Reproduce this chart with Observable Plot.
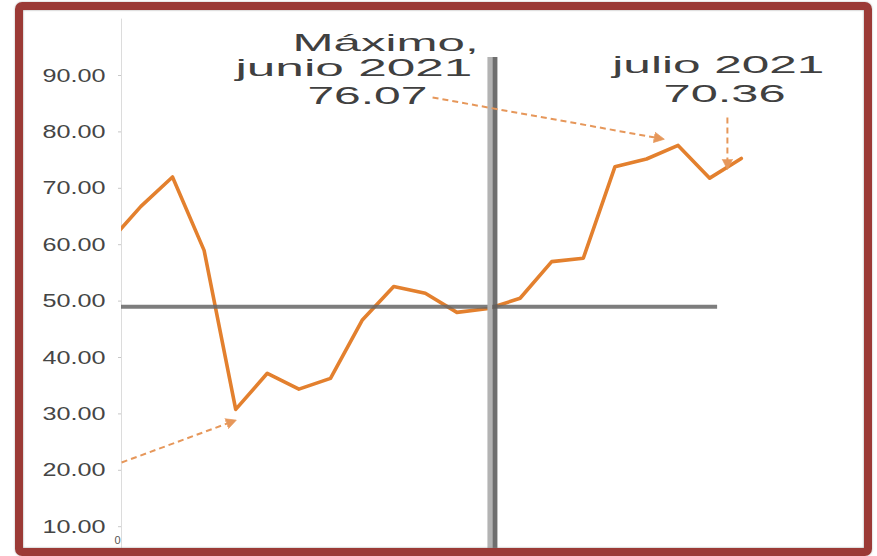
<!DOCTYPE html>
<html><head><meta charset="utf-8">
<script src="https://cdn.jsdelivr.net/npm/d3@7"></script>
<script src="https://cdn.jsdelivr.net/npm/@observablehq/plot@0.6"></script>
<style>
html,body{margin:0;padding:0;background:#fff;overflow:hidden}
#wrap{position:relative;width:877px;height:556px;overflow:hidden;background:#fff}
#chart{position:absolute;left:0;top:0}
#frame{position:absolute;left:15px;top:2px;width:841px;height:538px;border:8px solid #9b3a36;border-radius:7px;box-shadow:inset 0 0 2px #8a8a8a,0 0 2px #aaa;pointer-events:none}
</style></head><body>
<div id="wrap"><div id="chart"></div><div id="frame"></div></div>
<script>
// monthly series (index = month position)
const values = [60.5, 66.8, 72.0, 59.0, 30.8, 37.2, 34.4, 36.3, 46.6, 52.6, 51.4, 48.0, 48.7, 50.5, 57.0, 57.6, 73.8, 75.2, 77.6, 71.8, 75.3];
const yTicks = [10, 20, 30, 40, 50, 60, 70, 80, 90];

// reference lines
const xStart = 0.386, xEnd = 23;
const hRuleValue = 49, hRuleEnd = 19.25;
const vRuleAt = 12.14, vRuleTop = 93.2;

// annotations
const annoText = ["Máximo,", "junio 2021", "76.07", "julio 2021", "70.36"];
const annoX = [5.80, 3.99, 6.27, 15.92, 17.54];
const annoY = [95.67, 91.24, 86.28, 91.77, 86.63];
const arrowX1 = [10.23, 19.56, 0.39];
const arrowY1 = [86.10, 82.55, 21.38];
const arrowX2 = [17.44, 19.56, 3.90];
const arrowY2 = [78.83, 74.04, 28.65];
const cornerLabel = ["0"];

const annos = annoText.map((t, i) => ({text: t, x: annoX[i], y: annoY[i]}));
const arrows = arrowX1.map((x1, i) => ({x1, y1: arrowY1[i], x2: arrowX2[i], y2: arrowY2[i]}));

const chart = Plot.plot({
  width: 877, height: 600,
  marginLeft: 121, marginRight: 41.4, marginTop: 18.6, marginBottom: 17.4,
  x: {domain: [xStart, xEnd], axis: null},
  y: {domain: [0, 100], axis: null},
  style: {fontFamily: "'Liberation Sans', Arial, sans-serif", background: "transparent", overflow: "visible"},
  marks: [
    Plot.frame({anchor: "left", stroke: "#dcdcdc"}),
    Plot.axisY({ticks: yTicks, tickFormat: d => d.toFixed(2), tickSize: 3, tickPadding: 13, fontSize: 19, stroke: "#c8c8c8", fill: "#454545", label: null}),
    Plot.line(values, {x: (d, i) => i, y: d => d, stroke: "#e3802e", strokeWidth: 3.6, curve: "linear", strokeLinejoin: "round", clip: true}),
    Plot.ruleY([hRuleValue], {x1: xStart, x2: hRuleEnd, stroke: "#666", strokeWidth: 4, strokeOpacity: 0.85}),
    Plot.ruleX([vRuleAt], {y1: 0, y2: vRuleTop, stroke: "#b3b3b3", strokeWidth: 5, dx: -3}),
    Plot.ruleX([vRuleAt], {y1: 0, y2: vRuleTop, stroke: "#5e5e5e", strokeWidth: 5, dx: 2, strokeOpacity: 0.9}),
    Plot.link(arrows, {x1: "x1", y1: "y1", x2: "x2", y2: "y2", stroke: "#e6975a", strokeWidth: 2, strokeDasharray: "6,4", markerEnd: "arrow"}),
    Plot.text(annos, {x: "x", y: "y", text: "text", textAnchor: "start", fontSize: 24, fill: "#404040"}),
    Plot.text(cornerLabel, {x: 0.26, y: 7.5, text: d => d, fontSize: 11, fill: "#555"})
  ]
});
document.getElementById("chart").appendChild(chart);

// widen text like the reference (horizontally stretched glyphs)
const widths = new Map([["Máximo,", 186], ["junio 2021", 237], ["76.07", 120], ["julio 2021", 212], ["70.36", 122]]);
chart.querySelectorAll("text").forEach(t => {
  const s = t.textContent.trim();
  let w = widths.get(s);
  if (w == null && /^\d+\.00$/.test(s)) w = 63;
  if (w != null) { t.setAttribute("textLength", w); t.setAttribute("lengthAdjust", "spacingAndGlyphs"); }
});
// filled triangular arrow heads
chart.querySelectorAll("marker").forEach(m => {
  const c = m.getAttribute("stroke");
  m.setAttribute("fill", c);
  const p = m.querySelector("path");
  p.setAttribute("d", "M-4.5,-3.8L3,0L-4.5,3.8Z");
  p.setAttribute("stroke-dasharray", "none");
  p.setAttribute("stroke-width", "0.5");
});
</script>
</body></html>
